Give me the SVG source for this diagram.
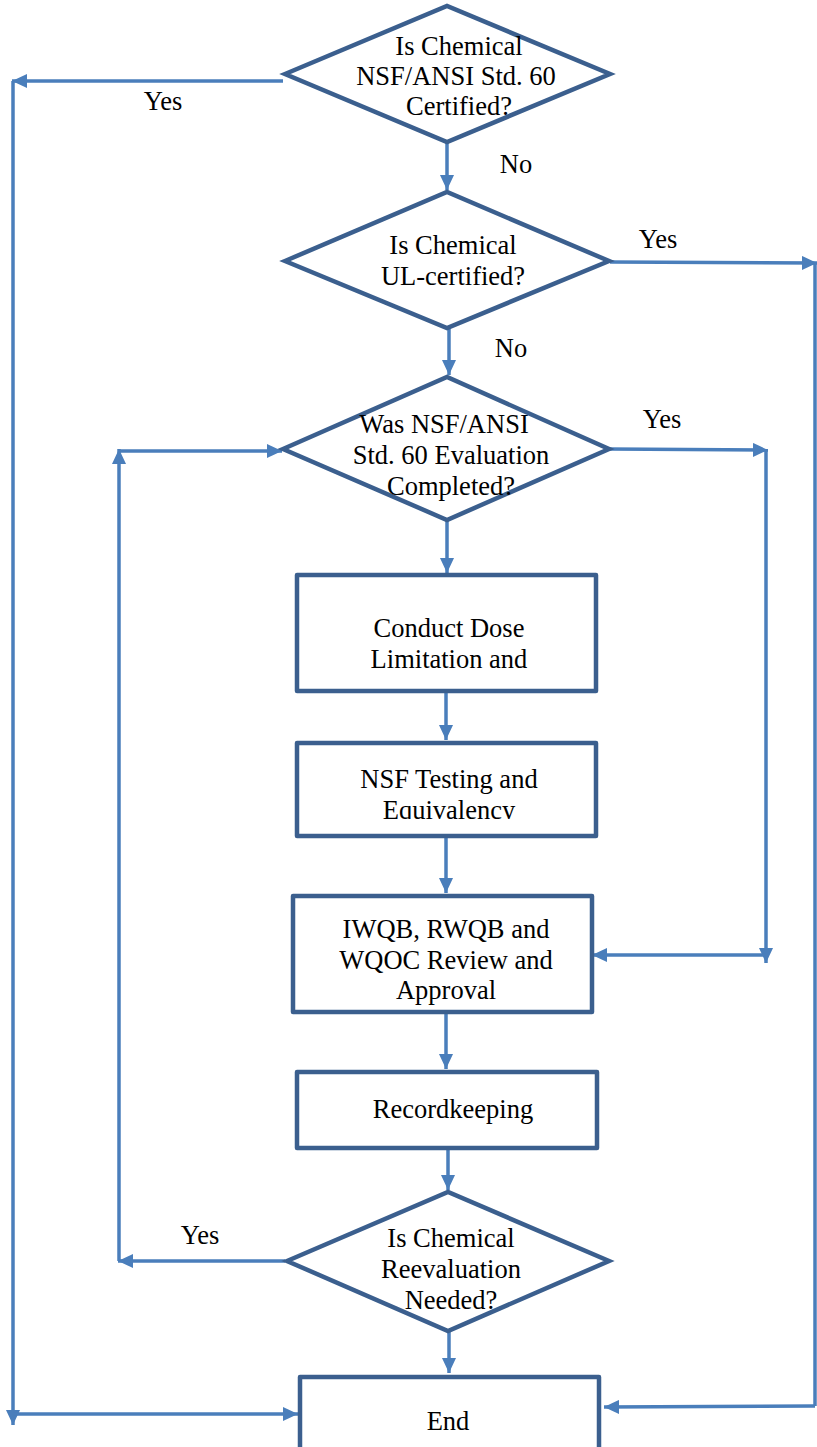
<svg xmlns="http://www.w3.org/2000/svg" width="817" height="1447" viewBox="0 0 817 1447">
<style>
.shape{fill:#fff;stroke:#3b5f8e;stroke-width:4.5;stroke-linejoin:miter}
.box{fill:#fff;stroke:#3b5f8e;stroke-width:4.5;stroke-linejoin:round}
.conn{fill:none;stroke:#4a7ebb;stroke-width:3.5}
.arr{marker-end:url(#ah)}
text{font-family:"Liberation Serif","Times New Roman",serif;font-size:26.5px;fill:#000;text-anchor:middle}
</style>
<defs>
<marker id="ah" markerUnits="userSpaceOnUse" markerWidth="16" markerHeight="14" refX="15" refY="7" orient="auto">
<path d="M0,0 L15,7 L0,14 z" fill="#4a7ebb"/>
</marker>
<clipPath id="clipEq"><rect x="297" y="743" width="299" height="76"/></clipPath>
</defs>
<g id="connectors">
<path class="conn arr" d="M447,142 L447,190"/>
<path class="conn arr" d="M283,81 L12,81"/>
<path class="conn arr" d="M13,81 L13,1425"/>
<path class="conn arr" d="M13,1414 L298,1414"/>
<path class="conn arr" d="M610,262 L817,263"/>
<path class="conn" d="M815,263 L815,1406"/>
<path class="conn arr" d="M815,1406 L604,1407"/>
<path class="conn arr" d="M449,328 L449,375"/>
<path class="conn arr" d="M609,449 L768,450"/>
<path class="conn arr" d="M766,450 L766,963"/>
<path class="conn arr" d="M766,955 L592,955"/>
<path class="conn arr" d="M447,520 L447,573"/>
<path class="conn arr" d="M446,691 L446,740"/>
<path class="conn arr" d="M446,837 L446,893"/>
<path class="conn arr" d="M446,1013 L446,1069"/>
<path class="conn arr" d="M448,1149 L448,1190"/>
<path class="conn arr" d="M285,1261 L118,1261"/>
<path class="conn arr" d="M119,1261 L119,449"/>
<path class="conn arr" d="M119,451 L282,451"/>
<path class="conn arr" d="M449,1331 L449,1373"/>
</g>
<g id="labels">
<text x="163" y="110">Yes</text>
<text x="516" y="173">No</text>
<text x="658" y="248">Yes</text>
<text x="511" y="357">No</text>
<text x="662" y="428">Yes</text>
<text x="200" y="1244">Yes</text>
</g>
<g id="d1">
<polygon class="shape" points="285,74 447,6 610,74 447,142"/>
<text x="459" y="55">Is Chemical</text>
<text x="456" y="85">NSF/ANSI Std. 60</text>
<text x="459" y="115">Certified?</text>
</g>
<g id="d2">
<polygon class="shape" points="285,261 447,192 609,261 447,328"/>
<text x="453" y="254">Is Chemical</text>
<text x="453" y="285">UL-certified?</text>
</g>
<g id="d3">
<polygon class="shape" points="283,449 447,377 609,449 447,520"/>
<text x="444" y="433">Was NSF/ANSI</text>
<text x="451" y="464">Std. 60 Evaluation</text>
<text x="451" y="495">Completed?</text>
</g>
<g id="b1">
<rect class="box" x="297" y="575" width="299" height="116"/>
<text x="449" y="637">Conduct Dose</text>
<text x="449" y="668">Limitation and</text>
</g>
<g id="b2">
<rect class="box" x="297" y="743" width="299" height="93"/>
<text x="449" y="788">NSF Testing and</text>
<text x="449" y="819" clip-path="url(#clipEq)">Equivalency</text>
</g>
<g id="b3">
<rect class="box" x="293" y="896" width="299" height="116"/>
<text x="446" y="938">IWQB, RWQB and</text>
<text x="446" y="969">WQOC Review and</text>
<text x="446" y="999">Approval</text>
</g>
<g id="b4">
<rect class="box" x="297" y="1072" width="300" height="76"/>
<text x="453" y="1118">Recordkeeping</text>
</g>
<g id="d4">
<polygon class="shape" points="287,1261 448,1192 609,1261 448,1331"/>
<text x="451" y="1247">Is Chemical</text>
<text x="451" y="1278">Reevaluation</text>
<text x="451" y="1309">Needed?</text>
</g>
<g id="end">
<rect class="box" x="300" y="1377" width="299" height="90"/>
<text x="448" y="1430">End</text>
</g>
</svg>
